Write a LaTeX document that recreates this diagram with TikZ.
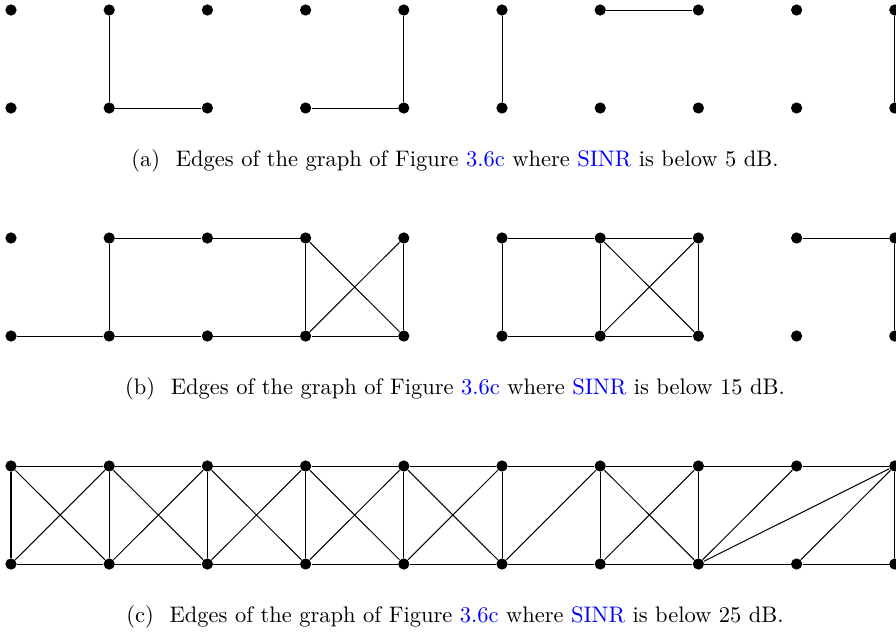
\documentclass[tikz,border=0pt]{standalone}
\usepackage{xcolor}
\tikzset{
  dot/.style={circle,fill=black,draw=none,inner sep=0pt,minimum size=5pt},
  edge/.style={draw=black,line width=0.45pt},
  captext/.style={font=\fontsize{10}{12}\selectfont,inner sep=0pt,anchor=center},
  pxgrid/.style={x={(0.015625cm,0)},y={(0,-0.015625cm)}}
}
\newcommand{\lnk}[1]{\textcolor{blue}{#1}}
\begin{document}
\begin{tikzpicture}[pxgrid]
\useasboundingbox (0,0) rectangle (896,632);
% nodes
\foreach \r/\yt/\yb in {a/10/108, b/238/336, c/466/564}{
  \foreach \i in {0,...,9}{
    \node[dot] (\r t\i) at ({11+98.2*\i},\yt) {};
    \node[dot] (\r b\i) at ({11+98.2*\i},\yb) {};
  }
}
% (a)
\foreach \u/\v in {t1/b1, b1/b2, b3/b4, t4/b4, t5/b5, t6/t7, t9/b9}
  \draw[edge] (a\u) -- (a\v);
% (b)
\foreach \u/\v in {b0/b1, t1/b1, t1/t2, t2/t3, b1/b2, b2/b3, t3/b3, b3/b4, t3/b4, b3/t4, t4/b4,
                   t5/t6, t5/b5, b5/b6, t6/t7, t6/b6, b6/b7, t7/b7, t6/b7, b6/t7, t8/t9, t9/b9}
  \draw[edge] (b\u) -- (b\v);
% (c)
\foreach \u/\v in {t0/t1, t0/b0, t0/b1, b0/t1, b0/b1,
                   t1/t2, t1/b1, t1/b2, b1/t2, b1/b2,
                   t2/t3, t2/b2, t2/b3, b2/t3, b2/b3,
                   t3/t4, t3/b3, t3/b4, b3/t4, b3/b4,
                   t4/t5, t4/b4, t4/b5, b4/t5, b4/b5,
                   t5/t6, t5/b5, b5/t6, b5/b6,
                   t6/t7, t6/b6, t6/b7, b6/t7, b6/b7,
                   t7/t8, t7/b7, b7/t8, b7/t9, b7/b8,
                   t8/t9, b8/t9, b8/b9, t9/b9}
  \draw[edge] (c\u) -- (c\v);
% captions
\node[captext] (capa) at (455,161) {(a)\hspace{0.7em}Edges of the graph of Figure \lnk{3.6c} where \lnk{SINR} is below 5 dB.};
\node[captext] (capb) at (455,389) {(b)\hspace{0.7em}Edges of the graph of Figure \lnk{3.6c} where \lnk{SINR} is below 15 dB.};
\node[captext] (capc) at (455,617) {(c)\hspace{0.7em}Edges of the graph of Figure \lnk{3.6c} where \lnk{SINR} is below 25 dB.};
\end{tikzpicture}
\end{document}
